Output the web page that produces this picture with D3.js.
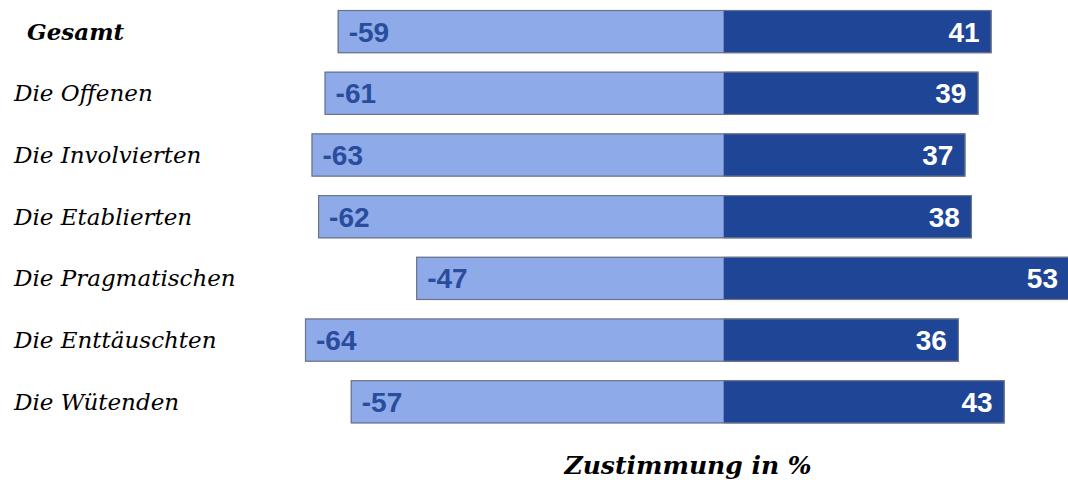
<!DOCTYPE html>
<html>
<head>
<meta charset="utf-8">
<script src="https://cdn.jsdelivr.net/npm/d3@7"></script>
<style>
  html, body { margin: 0; padding: 0; background: #ffffff; }
  svg { display: block; }
</style>
</head>
<body>
<svg id="chart" width="1068" height="480"></svg>
<script>
// Segment groups and their share of rejection (negative) vs. agreement (positive)
const categories = [
  "Gesamt",
  "Die Offenen",
  "Die Involvierten",
  "Die Etablierten",
  "Die Pragmatischen",
  "Die Enttäuschten",
  "Die Wütenden"
];
const rejection = [-59, -61, -63, -62, -47, -64, -57];
const agreement = [41, 39, 37, 38, 53, 36, 43];
const axisTitle = "Zustimmung in %";

const rows = categories.map((c, i) => ({ cat: c, neg: rejection[i], pos: agreement[i] }));

const svg = d3.select("#chart");

const x = d3.scaleLinear()
  .domain([d3.min(rejection), d3.max(agreement)])
  .range([305, 1070]);

const y = d3.scaleBand()
  .domain(categories)
  .range([0.75, 432.65])
  .paddingInner(0.3)
  .paddingOuter(0.15);

const lightBlue = "#8eaae8";
const darkBlue = "#1f4596";

const g = svg.append("g");

const row = g.selectAll("g.row")
  .data(rows)
  .join("g")
  .attr("class", "row")
  .attr("transform", d => `translate(0,${y(d.cat)})`);

// negative (rejection) segment
row.append("rect")
  .attr("x", d => x(d.neg))
  .attr("y", 0)
  .attr("width", d => x(0) - x(d.neg))
  .attr("height", y.bandwidth())
  .attr("fill", lightBlue);

// positive (agreement) segment
row.append("rect")
  .attr("x", x(0))
  .attr("y", 0)
  .attr("width", d => x(d.pos) - x(0))
  .attr("height", y.bandwidth())
  .attr("fill", darkBlue);

// outline around the whole bar
row.append("rect")
  .attr("x", d => x(d.neg) + 0.5)
  .attr("y", 0.5)
  .attr("width", d => x(d.pos) - x(d.neg) - 1)
  .attr("height", y.bandwidth() - 1)
  .attr("fill", "none")
  .attr("stroke", "#6c7488")
  .attr("stroke-width", 1.2);

// value labels
row.append("text")
  .attr("x", d => x(d.neg) + 11)
  .attr("y", y.bandwidth() / 2)
  .attr("dy", "0.36em")
  .attr("fill", "#2a4c9c")
  .style("font-family", "'Liberation Sans', Arial, sans-serif")
  .style("font-weight", "bold")
  .style("font-size", "28px")
  .text(d => d.neg);

row.append("text")
  .attr("x", d => x(d.pos) - 12)
  .attr("y", y.bandwidth() / 2)
  .attr("dy", "0.36em")
  .attr("text-anchor", "end")
  .attr("fill", "#ffffff")
  .style("font-family", "'Liberation Sans', Arial, sans-serif")
  .style("font-weight", "bold")
  .style("font-size", "28px")
  .text(d => d.pos);

// category labels
g.selectAll("text.cat")
  .data(rows)
  .join("text")
  .attr("class", "cat")
  .attr("x", (d, i) => i === 0 ? 27 : 14)
  .attr("y", d => y(d.cat) + y.bandwidth() / 2 + 8)
  .style("font-family", "'DejaVu Serif', serif")
  .style("font-style", "italic")
  .style("font-weight", (d, i) => i === 0 ? "bold" : "normal")
  .style("font-size", "23px")
  .attr("fill", "#000")
  .text(d => d.cat);

// axis title
svg.append("text")
  .attr("x", 688)
  .attr("y", 474)
  .attr("text-anchor", "middle")
  .style("font-family", "'DejaVu Serif', serif")
  .style("font-style", "italic")
  .style("font-weight", "bold")
  .style("font-size", "25px")
  .attr("fill", "#000")
  .text(axisTitle);
</script>
</body>
</html>
